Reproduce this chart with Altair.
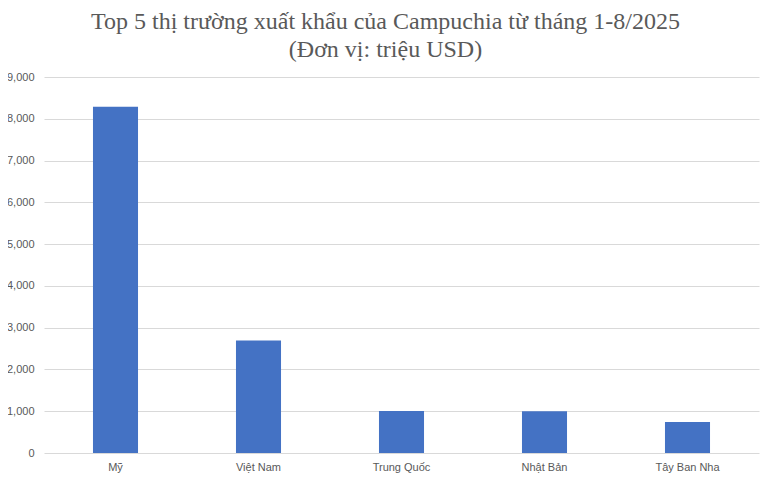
import altair as alt
import pandas as pd

markets = ["Mỹ", "Việt Nam", "Trung Quốc", "Nhật Bản", "Tây Ban Nha"]
values = [8290, 2690, 1005, 1000, 745]
y_ticks = [0, 1000, 2000, 3000, 4000, 5000, 6000, 7000, 8000, 9000]
title_lines = ["Top 5 thị trường xuất khẩu của Campuchia từ tháng 1-8/2025", "(Đơn vị: triệu USD)"]

df = pd.DataFrame({"market": markets, "value": values})

chart = alt.Chart(df).mark_bar(color="#4472C4").encode(
    x=alt.X("market:N", sort=markets, title=None,
            scale=alt.Scale(paddingInner=0.685, paddingOuter=0.3425),
            axis=alt.Axis(labelAngle=0, labelFont="Liberation Sans", labelFontSize=11,
                          labelColor="#595959", ticks=False, domain=False, labelPadding=8,
                          grid=False)),
    y=alt.Y("value:Q", title=None,
            scale=alt.Scale(domain=[0, 9000], nice=False),
            axis=alt.Axis(values=y_ticks, format=",d", labelFont="Liberation Sans",
                          labelFontSize=11, labelColor="#595959", ticks=False, domain=False,
                          labelPadding=10, gridColor="#d9d9d9", gridWidth=1)),
).properties(
    width=715,
    height=376,
    title=alt.TitleParams(text=title_lines, font="Liberation Serif", fontSize=24,
                          fontWeight="normal", color="#595959", anchor="middle",
                          dx=-16, offset=9, lineHeight=28),
    autosize=alt.AutoSizeParams(type="none"),
    padding={"left": 36, "top": 69, "right": 6, "bottom": 20},
).configure_view(stroke=None)

chart.save("out.html", embed_options={"renderer": "svg", "actions": False})
